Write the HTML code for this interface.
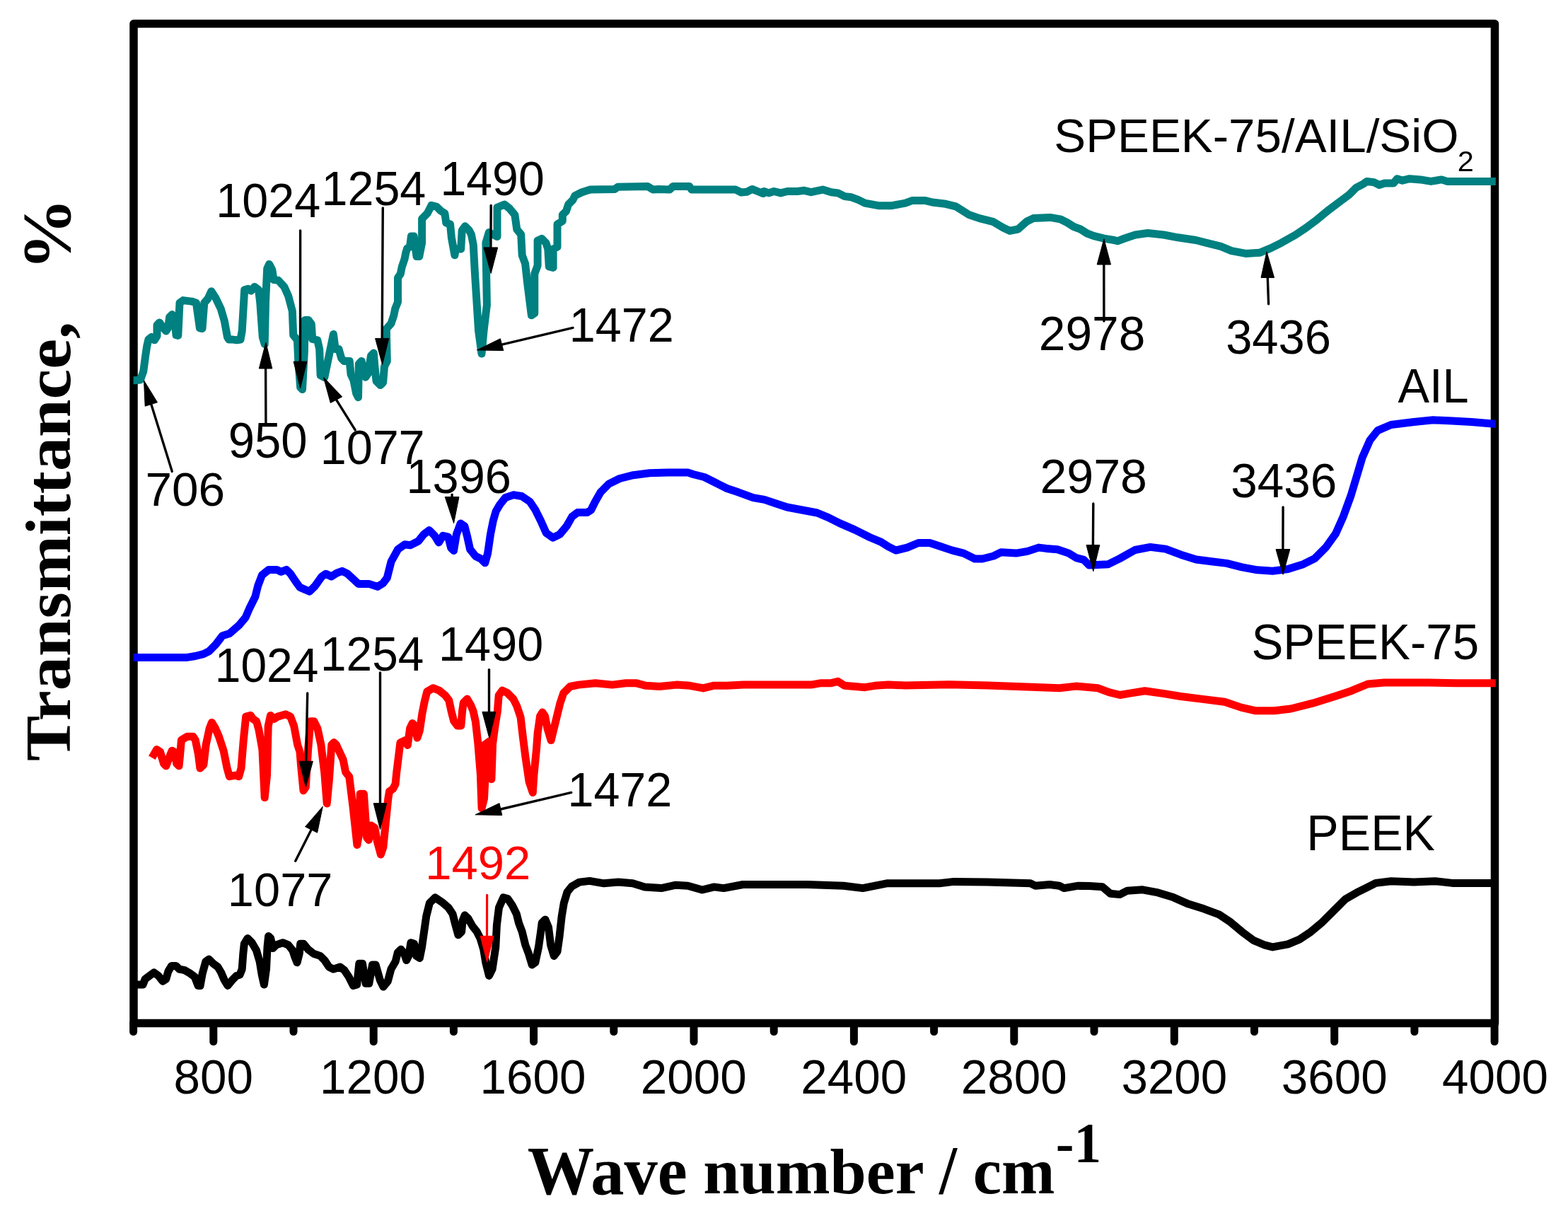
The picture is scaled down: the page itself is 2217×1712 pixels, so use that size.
<!DOCTYPE html>
<html><head><meta charset="utf-8"><title>FTIR spectra</title>
<style>html,body{margin:0;padding:0;background:#fff;overflow:hidden}svg{display:block}</style>
</head><body>
<svg width="2217" height="1712" viewBox="0 0 2217 1712">
<rect x="0" y="0" width="2217" height="1712" fill="#fff"/>
<rect x="189" y="33.5" width="1924.5" height="1413" fill="none" stroke="#000" stroke-width="11.5" stroke-linejoin="round"/>
<line x1="188.6" y1="1446.5" x2="188.6" y2="1458.5" stroke="#000" stroke-width="11" stroke-linecap="round"/>
<line x1="301.8" y1="1446.5" x2="301.8" y2="1472.5" stroke="#000" stroke-width="11" stroke-linecap="round"/>
<line x1="415.0" y1="1446.5" x2="415.0" y2="1458.5" stroke="#000" stroke-width="11" stroke-linecap="round"/>
<line x1="528.2" y1="1446.5" x2="528.2" y2="1472.5" stroke="#000" stroke-width="11" stroke-linecap="round"/>
<line x1="641.4" y1="1446.5" x2="641.4" y2="1458.5" stroke="#000" stroke-width="11" stroke-linecap="round"/>
<line x1="754.6" y1="1446.5" x2="754.6" y2="1472.5" stroke="#000" stroke-width="11" stroke-linecap="round"/>
<line x1="867.8" y1="1446.5" x2="867.8" y2="1458.5" stroke="#000" stroke-width="11" stroke-linecap="round"/>
<line x1="981.0" y1="1446.5" x2="981.0" y2="1472.5" stroke="#000" stroke-width="11" stroke-linecap="round"/>
<line x1="1094.2" y1="1446.5" x2="1094.2" y2="1458.5" stroke="#000" stroke-width="11" stroke-linecap="round"/>
<line x1="1207.4" y1="1446.5" x2="1207.4" y2="1472.5" stroke="#000" stroke-width="11" stroke-linecap="round"/>
<line x1="1320.6" y1="1446.5" x2="1320.6" y2="1458.5" stroke="#000" stroke-width="11" stroke-linecap="round"/>
<line x1="1433.8" y1="1446.5" x2="1433.8" y2="1472.5" stroke="#000" stroke-width="11" stroke-linecap="round"/>
<line x1="1547.0" y1="1446.5" x2="1547.0" y2="1458.5" stroke="#000" stroke-width="11" stroke-linecap="round"/>
<line x1="1660.3" y1="1446.5" x2="1660.3" y2="1472.5" stroke="#000" stroke-width="11" stroke-linecap="round"/>
<line x1="1773.5" y1="1446.5" x2="1773.5" y2="1458.5" stroke="#000" stroke-width="11" stroke-linecap="round"/>
<line x1="1886.7" y1="1446.5" x2="1886.7" y2="1472.5" stroke="#000" stroke-width="11" stroke-linecap="round"/>
<line x1="1999.9" y1="1446.5" x2="1999.9" y2="1458.5" stroke="#000" stroke-width="11" stroke-linecap="round"/>
<line x1="2113.1" y1="1446.5" x2="2113.1" y2="1472.5" stroke="#000" stroke-width="11" stroke-linecap="round"/>
<polyline points="188.6,537.7 190.0,537.7 198.5,537.0 202.8,524.9 205.6,503.6 207.7,489.4 209.9,480.1 214.1,476.6 218.4,480.8 222.0,475.1 222.0,459.5 225.5,455.9 229.8,462.3 234.8,468.0 237.6,463.8 239.7,448.1 243.3,444.6 246.9,449.5 249.0,473.7 251.8,474.4 254.0,428.2 258.9,424.6 271.0,426.1 277.4,428.2 282.4,463.8 286.0,464.5 288.8,428.2 293.8,422.5 298.8,411.8 305.2,421.8 312.3,436.7 317.3,453.8 321.5,476.6 323.7,480.1 329.4,480.1 335.0,480.8 340.0,480.1 342.2,468.0 345.7,409.7 350.7,408.3 355.0,411.1 359.9,405.4 365.6,409.7 367.8,428.2 371.3,476.6 374.2,486.5 375.6,425.3 377.7,379.8 380.6,373.4 384.8,381.3 387.0,395.5 393.4,396.2 401.9,405.4 407.6,418.2 413.3,439.6 414.7,473.7 420.4,480.8 421.8,510.7 424.7,547.7 427.5,550.5 430.4,496.5 431.1,452.4 436.0,452.4 440.3,458.1 441.7,479.4 448.8,480.8 451.7,493.6 453.1,530.6 458.8,533.5 471.4,472.5 474.2,493.4 479.0,493.4 482.8,506.7 486.6,510.5 494.2,510.5 496.1,529.4 499.8,537.0 503.6,556.0 506.5,561.7 507.4,514.3 511.2,510.5 515.0,529.4 516.9,533.2 520.7,527.6 524.5,502.9 528.3,499.1 530.2,521.9 532.1,538.9 537.8,544.6 541.6,540.8 543.5,518.1 547.3,510.5 546.3,464.9 553.0,457.3 556.8,446.0 558.7,436.5 562.5,427.0 562.5,392.8 566.3,387.1 568.2,377.6 572.0,366.3 573.9,356.8 575.7,351.1 579.5,349.2 581.4,334.0 585.2,334.0 589.0,362.5 592.8,362.5 596.6,343.5 596.6,309.3 604.2,301.7 609.9,290.4 617.5,292.3 623.2,298.0 628.9,301.7 630.8,315.0 636.5,316.9 638.4,335.9 642.9,360.8 644.4,352.1 651.7,352.1 653.2,325.7 657.6,319.8 663.4,325.7 666.4,331.5 669.3,346.2 671.5,387.2 676.6,467.8 681.0,500.0 684.0,467.8 688.4,431.2 686.9,343.3 691.3,328.6 703.0,334.5 703.0,293.4 713.3,289.0 720.6,294.9 727.9,303.7 730.8,324.2 736.7,331.5 738.2,360.8 742.6,372.6 745.5,398.9 751.4,445.8 755.8,442.9 755.8,387.2 760.1,375.5 760.1,340.3 766.0,337.4 771.9,343.3 774.8,352.1 776.3,377.0 782.1,378.4 782.1,352.1 788.0,349.1 788.0,316.9 795.3,312.5 795.3,303.7 800.5,298.5 803.6,289.2 809.8,282.9 812.9,276.7 822.3,272.0 831.6,268.9 834.7,268.1 869.0,267.4 873.6,264.2 915.7,263.5 923.4,268.1 931.2,267.4 946.8,268.1 951.5,263.5 974.8,263.5 977.9,268.1 1040.2,268.1 1048.0,272.0 1055.8,271.3 1063.5,267.4 1071.3,270.5 1079.1,273.6 1080.0,270.5 1087.1,272.9 1094.3,270.5 1103.8,272.9 1113.3,270.5 1127.6,270.5 1137.1,269.3 1146.7,271.7 1163.3,268.1 1175.2,271.7 1184.8,272.9 1194.3,277.6 1203.8,278.8 1213.3,282.4 1222.9,287.1 1241.9,290.7 1261.0,290.7 1280.0,287.1 1289.5,283.6 1308.6,283.6 1318.1,286.0 1337.1,288.3 1351.4,291.9 1361.0,297.9 1370.5,303.8 1384.8,308.6 1403.8,313.3 1418.1,321.7 1427.6,326.4 1439.5,324.0 1451.4,313.3 1461.0,308.6 1484.8,307.4 1499.0,309.8 1508.6,314.5 1518.1,320.5 1527.6,324.0 1537.1,330.0 1546.7,333.6 1561.0,337.1 1575.2,339.5 1580.0,340.8 1590.1,337.0 1605.2,332.0 1622.8,329.5 1645.5,332.0 1665.6,335.8 1690.8,339.5 1705.9,343.3 1726.1,348.4 1741.2,354.7 1761.3,358.4 1781.5,357.2 1796.6,350.9 1811.7,343.3 1831.8,332.0 1846.9,321.9 1862.0,310.6 1877.2,298.0 1892.3,286.7 1907.4,275.3 1917.4,265.3 1927.5,260.2 1932.6,256.4 1942.6,257.7 1950.2,261.5 1957.7,259.0 1970.3,259.0 1975.4,252.7 1982.9,255.2 1993.0,252.7 2008.1,253.9 2023.2,256.4 2038.3,253.9 2045.9,256.4 2113.9,256.4 2114.8,256.4" fill="none" stroke="#008080" stroke-width="11" stroke-linejoin="round" stroke-linecap="butt"/>
<polyline points="188.6,929.4 264.6,929.4 276.2,927.5 287.7,924.6 295.4,920.8 305.0,911.2 314.6,898.7 324.2,895.8 337.7,884.2 347.3,872.7 353.1,859.2 360.8,843.8 364.6,828.5 370.4,813.1 380.0,805.4 391.5,805.4 397.3,808.3 405.0,805.4 410.8,811.2 418.5,822.7 424.2,830.4 437.7,836.2 445.4,828.5 455.0,815.0 460.8,811.2 468.5,815.0 476.2,810.2 483.8,807.3 491.5,811.2 506.9,825.6 522.3,825.6 533.8,829.4 541.5,824.6 547.3,816.9 553.1,793.8 562.7,776.5 572.3,769.8 580.0,770.8 591.5,765.0 599.2,755.4 606.9,749.6 614.6,757.3 620.4,766.9 626.2,757.3 633.8,759.2 637.7,774.6 641.5,778.5 645.4,755.4 651.2,740.0 656.9,743.8 660.8,759.2 664.6,776.5 672.3,786.2 680.0,790.0 685.8,795.8 689.6,782.3 693.5,755.4 697.3,736.2 701.2,722.7 706.9,713.1 714.6,703.5 726.2,699.6 737.7,701.5 749.2,709.2 756.9,720.8 764.6,736.2 772.3,753.5 781.9,760.2 791.5,755.4 801.2,743.8 808.8,730.4 816.5,724.6 830.0,724.6 835.8,720.8 841.5,709.2 849.2,695.8 860.8,684.2 876.2,676.5 895.4,671.7 918.5,668.8 945.4,667.9 972.3,667.9 980.0,670.5 995.9,674.5 1011.9,682.5 1027.8,690.5 1043.7,695.8 1065.0,703.7 1080.9,706.4 1096.8,711.7 1112.8,717.0 1134.0,721.0 1155.3,725.0 1171.2,731.6 1187.1,739.6 1208.4,748.9 1229.6,759.5 1245.5,766.1 1256.2,772.8 1266.8,778.1 1282.7,774.1 1298.6,767.5 1314.6,767.5 1330.5,772.8 1346.4,778.1 1362.4,782.1 1378.3,790.0 1388.9,790.0 1404.9,786.0 1415.5,780.7 1436.7,782.1 1452.7,779.4 1468.6,774.1 1479.2,775.4 1495.1,776.7 1511.1,782.1 1521.7,788.7 1532.3,791.4 1540.0,799.1 1567.0,797.7 1583.2,789.6 1604.8,777.5 1626.4,773.4 1648.1,776.1 1669.7,784.2 1691.3,791.0 1712.9,793.7 1734.5,796.4 1756.1,801.8 1777.7,805.8 1799.3,807.2 1821.0,804.5 1842.6,797.7 1858.8,789.6 1875.0,773.4 1888.5,754.5 1899.3,730.2 1910.1,700.5 1918.2,673.5 1926.3,646.4 1937.1,622.1 1947.9,608.6 1966.8,600.5 1999.2,596.5 2026.3,593.8 2053.3,595.1 2080.3,596.5 2112.7,599.2 2114.8,599.2" fill="none" stroke="#0000FF" stroke-width="11" stroke-linejoin="round" stroke-linecap="butt"/>
<polyline points="214.9,1071.2 221.5,1059.6 226.5,1062.9 231.5,1079.5 234.8,1082.8 239.8,1069.5 243.1,1061.2 246.4,1062.9 249.7,1079.5 253.1,1082.8 254.7,1066.2 256.4,1046.3 264.7,1041.3 273.0,1041.3 276.3,1046.3 280.4,1066.2 282.9,1086.1 287.9,1081.1 291.2,1052.9 296.2,1029.7 299.5,1021.4 304.5,1029.7 309.5,1041.3 316.1,1061.2 321.1,1086.1 324.4,1097.7 332.7,1096.1 337.7,1097.7 341.0,1086.1 344.3,1046.3 347.7,1013.1 354.3,1011.4 357.6,1016.4 362.6,1019.7 365.9,1031.4 370.9,1059.6 374.2,1127.6 377.5,1096.1 379.2,1026.4 382.5,1011.4 387.5,1016.4 392.5,1013.1 404.1,1009.8 410.7,1013.1 415.7,1026.4 420.7,1052.9 424.0,1062.9 425.6,1082.8 429.0,1117.7 432.3,1112.7 435.6,1059.6 438.9,1019.7 443.9,1019.7 448.9,1029.7 453.9,1052.9 458.8,1092.8 462.2,1135.9 465.5,1101.1 468.8,1052.9 472.1,1049.6 475.4,1052.9 485.2,1074.1 488.6,1091.3 493.8,1098.1 495.5,1111.9 498.9,1139.4 502.3,1170.3 504.9,1194.4 507.5,1180.6 509.2,1122.2 514.4,1122.2 516.1,1146.3 518.7,1184.1 521.3,1187.5 524.7,1166.9 529.8,1170.3 533.3,1189.2 538.4,1208.1 541.9,1197.8 545.3,1163.4 548.8,1129.1 550.5,1118.8 555.6,1115.3 559.1,1108.4 560.8,1091.3 564.2,1063.8 565.9,1050.0 572.8,1046.6 576.3,1053.4 579.7,1029.4 583.1,1022.5 586.6,1025.9 590.0,1043.1 593.4,1032.8 596.9,1008.8 600.3,991.6 603.8,977.8 612.3,972.7 620.9,976.1 629.5,983.0 634.7,989.8 638.1,1005.3 641.6,1019.1 646.7,1025.9 651.9,1025.9 653.6,1005.3 655.3,993.3 660.5,988.1 665.6,996.7 669.1,1005.3 672.5,1020.8 675.9,1051.7 679.4,1094.7 681.1,1142.8 684.5,1129.1 686.3,1094.7 684.5,1053.4 691.4,1048.3 694.9,1060.3 694.9,1101.6 696.6,1051.7 700.0,1025.9 703.4,1005.3 705.2,983.0 710.3,976.1 717.2,979.5 725.8,988.1 730.9,998.4 736.1,1013.9 739.5,1043.1 743.0,1070.6 748.1,1105.0 753.3,1120.5 755.0,1094.7 758.4,1060.3 760.2,1036.3 763.6,1012.2 767.0,1007.0 770.5,1012.2 773.9,1029.4 779.1,1046.6 791.9,994.3 796.7,980.0 806.2,970.5 818.1,968.1 841.9,965.7 865.7,968.1 884.8,965.7 899.0,965.7 913.3,969.3 932.4,970.5 956.2,968.1 975.2,969.3 994.3,972.9 1008.6,969.3 1027.6,969.3 1051.4,968.1 1146.7,968.1 1161.0,965.7 1175.2,965.7 1184.8,963.3 1194.3,969.3 1208.6,970.5 1222.9,971.7 1237.1,969.3 1256.2,968.1 1280.0,968.9 1342.3,967.8 1396.8,968.9 1451.3,970.9 1498.0,972.8 1521.3,970.1 1552.5,972.8 1568.0,978.7 1583.6,982.5 1599.2,979.8 1618.7,976.7 1645.9,980.6 1669.3,984.5 1700.4,988.4 1731.5,992.3 1754.9,1000.1 1774.4,1004.7 1801.6,1004.7 1825.0,1002.0 1856.1,994.2 1887.2,984.5 1910.6,976.7 1934.0,967.0 1957.3,965.0 2019.6,965.0 2058.5,965.8 2113.0,965.8 2114.8,965.8" fill="none" stroke="#FF0000" stroke-width="11" stroke-linejoin="round" stroke-linecap="butt"/>
<polyline points="188.6,1391.9 195.1,1391.9 202.1,1391.9 205.2,1384.1 211.5,1379.4 217.7,1374.8 223.9,1379.4 230.1,1387.2 234.8,1384.1 237.9,1373.2 242.6,1365.4 248.8,1365.4 253.5,1370.1 261.3,1371.7 269.1,1376.3 275.3,1381.0 280.0,1393.4 283.1,1393.4 286.2,1376.3 290.9,1359.2 295.5,1356.1 301.7,1362.3 308.0,1367.0 312.6,1374.8 317.3,1385.7 322.0,1393.4 328.2,1385.7 334.4,1379.4 339.1,1377.9 342.2,1370.1 343.8,1348.3 345.3,1334.3 350.0,1326.5 356.2,1332.7 362.5,1343.6 367.1,1359.2 370.2,1377.9 373.4,1391.9 376.5,1370.1 378.0,1339.0 379.6,1323.4 382.7,1326.5 385.8,1340.5 390.5,1335.9 399.8,1332.7 407.6,1335.9 413.8,1343.6 416.9,1353.0 420.1,1360.8 423.2,1348.3 424.7,1334.3 429.4,1334.3 435.6,1342.1 443.4,1348.3 452.7,1351.4 459.0,1357.6 465.2,1367.0 471.4,1370.1 480.8,1367.0 487.0,1371.7 493.2,1381.0 499.4,1393.4 504.7,1391.9 507.8,1362.3 512.5,1362.3 517.1,1390.3 521.8,1390.3 526.5,1363.9 531.1,1363.9 537.4,1385.7 542.0,1395.0 548.3,1387.2 552.9,1370.1 559.2,1359.2 562.3,1346.7 566.9,1342.1 571.6,1348.3 574.7,1357.6 577.8,1351.4 580.9,1332.7 585.6,1334.3 588.7,1351.4 593.4,1354.5 596.5,1339.0 599.6,1317.2 602.7,1295.4 607.4,1276.7 615.2,1268.9 624.5,1275.1 633.9,1282.9 640.1,1292.3 643.2,1304.7 647.9,1321.8 652.6,1317.2 654.1,1301.6 657.2,1293.8 661.9,1298.5 668.1,1309.4 674.3,1317.2 679.0,1326.5 683.7,1342.1 686.8,1360.8 691.5,1379.4 696.1,1370.1 700.8,1339.0 702.4,1307.8 705.5,1282.9 711.7,1268.9 717.9,1270.5 724.2,1279.8 730.4,1292.3 733.5,1304.7 738.2,1317.2 742.8,1335.9 747.5,1348.3 752.2,1363.9 756.8,1360.8 761.5,1339.0 764.6,1317.2 766.2,1304.7 770.9,1300.0 775.5,1310.9 778.6,1335.9 783.3,1351.4 788.0,1345.2 791.1,1323.4 794.2,1295.4 797.3,1276.7 802.0,1261.1 808.2,1253.3 819.1,1247.1 833.6,1245.4 853.9,1248.8 874.2,1247.1 894.6,1248.8 911.5,1253.9 935.2,1255.6 955.5,1251.2 972.5,1252.2 992.8,1258.0 1009.8,1253.9 1023.3,1255.6 1050.4,1250.5 1141.9,1250.5 1192.8,1252.2 1219.9,1255.6 1253.8,1248.8 1294.4,1248.8 1328.3,1248.8 1348.6,1246.4 1396.1,1247.1 1457.1,1248.8 1463.8,1252.2 1484.2,1250.5 1497.7,1252.2 1504.5,1255.6 1524.8,1252.2 1540.0,1252.4 1558.9,1253.8 1569.7,1263.2 1583.2,1264.6 1594.0,1259.2 1615.6,1257.8 1637.3,1261.9 1658.9,1268.6 1680.5,1278.1 1702.1,1284.8 1723.7,1292.9 1739.9,1303.7 1756.1,1317.3 1772.3,1329.4 1788.5,1336.2 1799.3,1338.9 1821.0,1334.8 1837.2,1328.1 1853.4,1317.3 1869.6,1303.7 1885.8,1287.5 1902.0,1271.3 1918.2,1261.9 1934.4,1253.8 1945.2,1248.4 1966.8,1245.7 1999.2,1247.0 2029.0,1245.7 2053.3,1248.4 2107.3,1248.4 2114.8,1248.4" fill="none" stroke="#000000" stroke-width="11" stroke-linejoin="round" stroke-linecap="butt"/>
<text transform="translate(248.2,1545.5) scale(0.6740,0.6900)" x="-4" y="0" font-family="Liberation Sans, sans-serif" font-weight="normal" font-size="100" fill="#000">800</text>
<text transform="translate(457.4,1545.5) scale(0.6740,0.6900)" x="-8" y="0" font-family="Liberation Sans, sans-serif" font-weight="normal" font-size="100" fill="#000">1200</text>
<text transform="translate(683.9,1545.5) scale(0.6740,0.6900)" x="-8" y="0" font-family="Liberation Sans, sans-serif" font-weight="normal" font-size="100" fill="#000">1600</text>
<text transform="translate(909.2,1545.5) scale(0.6740,0.6900)" x="-5" y="0" font-family="Liberation Sans, sans-serif" font-weight="normal" font-size="100" fill="#000">2000</text>
<text transform="translate(1135.7,1545.5) scale(0.6740,0.6900)" x="-5" y="0" font-family="Liberation Sans, sans-serif" font-weight="normal" font-size="100" fill="#000">2400</text>
<text transform="translate(1362.1,1545.5) scale(0.6740,0.6900)" x="-5" y="0" font-family="Liberation Sans, sans-serif" font-weight="normal" font-size="100" fill="#000">2800</text>
<text transform="translate(1588.1,1545.5) scale(0.6740,0.6900)" x="-4" y="0" font-family="Liberation Sans, sans-serif" font-weight="normal" font-size="100" fill="#000">3200</text>
<text transform="translate(1814.5,1545.5) scale(0.6740,0.6900)" x="-4" y="0" font-family="Liberation Sans, sans-serif" font-weight="normal" font-size="100" fill="#000">3600</text>
<text transform="translate(2040.3,1545.5) scale(0.6740,0.6900)" x="-2" y="0" font-family="Liberation Sans, sans-serif" font-weight="normal" font-size="100" fill="#000">4000</text>
<text transform="translate(746.8,1687.7) scale(0.9455,0.9800)" x="-1" y="0" font-family="Liberation Serif, sans-serif" font-weight="bold" font-size="100" fill="#000">Wave</text>
<text transform="translate(996.9,1686.9) scale(0.9225,0.9116)" x="-3" y="0" font-family="Liberation Serif, sans-serif" font-weight="bold" font-size="100" fill="#000">number</text>
<text transform="translate(1327.0,1686.5) scale(0.9000,0.9769)" x="1" y="0" font-family="Liberation Serif, sans-serif" font-weight="bold" font-size="100" fill="#000">/</text>
<text transform="translate(1378.5,1686.5) scale(0.9057,0.9213)" x="-3" y="0" font-family="Liberation Serif, sans-serif" font-weight="bold" font-size="100" fill="#000">cm</text>
<text transform="translate(1495.8,1642.5) scale(0.7730,0.8076)" x="-4" y="0" font-family="Liberation Serif, sans-serif" font-weight="bold" font-size="100" fill="#000">-1</text>
<text transform="translate(99.0,1074.0) rotate(-90) scale(0.9624,0.9130)" x="-2" y="0" font-family="Liberation Serif, serif" font-weight="bold" font-size="100" fill="#000">Transmittance,</text>
<text transform="translate(99.0,372.0) rotate(-90) scale(1.0247,0.9769)" x="-10" y="0" font-family="Liberation Serif, serif" font-weight="bold" font-size="100" fill="#000">%</text>
<text transform="translate(1493.7,215.0) scale(0.6730,0.6589)" x="-5" y="0" font-family="Liberation Sans, sans-serif" font-weight="normal" font-size="100" fill="#000">SPEEK-75/AIL/SiO</text>
<text transform="translate(2062.9,241.8) scale(0.4152,0.4114)" x="-5" y="0" font-family="Liberation Sans, sans-serif" font-weight="normal" font-size="100" fill="#000">2</text>
<text transform="translate(1976.4,569.0) scale(0.6680,0.6884)" x="0" y="0" font-family="Liberation Sans, sans-serif" font-weight="normal" font-size="100" fill="#000">AIL</text>
<text transform="translate(1772.8,931.9) scale(0.6733,0.6957)" x="-5" y="0" font-family="Liberation Sans, sans-serif" font-weight="normal" font-size="100" fill="#000">SPEEK-75</text>
<text transform="translate(1852.8,1201.8) scale(0.6809,0.6957)" x="-8" y="0" font-family="Liberation Sans, sans-serif" font-weight="normal" font-size="100" fill="#000">PEEK</text>
<text transform="translate(310.6,307.0) scale(0.6654,0.6886)" x="-8" y="0" font-family="Liberation Sans, sans-serif" font-weight="normal" font-size="100" fill="#000">1024</text>
<line x1="424.6" y1="326.0" x2="424.5" y2="511.1" stroke="#000" stroke-width="3.4" stroke-linecap="round"/><polygon points="424.6,548.8 415.1,511.1 433.9,511.1" fill="#000" stroke="#000" stroke-width="1" stroke-linejoin="round"/>
<text transform="translate(459.8,290.2) scale(0.6645,0.6886)" x="-8" y="0" font-family="Liberation Sans, sans-serif" font-weight="normal" font-size="100" fill="#000">1254</text>
<line x1="541.3" y1="294.0" x2="540.2" y2="478.4" stroke="#000" stroke-width="3.4" stroke-linecap="round"/><polygon points="540.6,515.4 530.6,478.4 549.8,478.4" fill="#000" stroke="#000" stroke-width="1" stroke-linejoin="round"/>
<text transform="translate(627.7,276.3) scale(0.6624,0.6829)" x="-8" y="0" font-family="Liberation Sans, sans-serif" font-weight="normal" font-size="100" fill="#000">1490</text>
<line x1="694.2" y1="290.5" x2="693.9" y2="349.9" stroke="#000" stroke-width="3.4" stroke-linecap="round"/><polygon points="694.2,386.5 684.0,349.9 703.7,349.9" fill="#000" stroke="#000" stroke-width="1" stroke-linejoin="round"/>
<text transform="translate(810.0,482.5) scale(0.6651,0.6814)" x="-8" y="0" font-family="Liberation Sans, sans-serif" font-weight="normal" font-size="100" fill="#000">1472</text>
<line x1="810.0" y1="463.4" x2="709.6" y2="487.2" stroke="#000" stroke-width="3.4" stroke-linecap="round"/><polygon points="674.4,494.9 707.4,478.8 711.8,495.6" fill="#000" stroke="#000" stroke-width="1" stroke-linejoin="round"/>
<text transform="translate(326.0,646.8) scale(0.6709,0.6971)" x="-5" y="0" font-family="Liberation Sans, sans-serif" font-weight="normal" font-size="100" fill="#000">950</text>
<line x1="375.9" y1="599.3" x2="375.6" y2="521.0" stroke="#000" stroke-width="3.4" stroke-linecap="round"/><polygon points="375.9,484.1 366.3,521.0 384.8,521.0" fill="#000" stroke="#000" stroke-width="1" stroke-linejoin="round"/>
<text transform="translate(458.0,655.5) scale(0.6651,0.6786)" x="-8" y="0" font-family="Liberation Sans, sans-serif" font-weight="normal" font-size="100" fill="#000">1077</text>
<line x1="502.2" y1="607.9" x2="475.5" y2="565.2" stroke="#000" stroke-width="3.4" stroke-linecap="round"/><polygon points="457.4,533.2 467.3,569.5 483.7,560.9" fill="#000" stroke="#000" stroke-width="1" stroke-linejoin="round"/>
<text transform="translate(208.8,715.2) scale(0.6752,0.6714)" x="-5" y="0" font-family="Liberation Sans, sans-serif" font-weight="normal" font-size="100" fill="#000">706</text>
<line x1="243.3" y1="666.4" x2="213.8" y2="571.5" stroke="#000" stroke-width="3.4" stroke-linecap="round"/><polygon points="203.5,537.9 205.2,574.2 222.5,568.8" fill="#000" stroke="#000" stroke-width="1" stroke-linejoin="round"/>
<text transform="translate(1472.2,495.3) scale(0.6765,0.6857)" x="-5" y="0" font-family="Liberation Sans, sans-serif" font-weight="normal" font-size="100" fill="#000">2978</text>
<line x1="1560.9" y1="454.0" x2="1560.8" y2="374.0" stroke="#000" stroke-width="3.4" stroke-linecap="round"/><polygon points="1560.9,337.7 1551.2,374.0 1570.5,374.0" fill="#000" stroke="#000" stroke-width="1" stroke-linejoin="round"/>
<text transform="translate(1735.8,500.0) scale(0.6692,0.6857)" x="-4" y="0" font-family="Liberation Sans, sans-serif" font-weight="normal" font-size="100" fill="#000">3436</text>
<line x1="1793.6" y1="429.8" x2="1792.3" y2="392.5" stroke="#000" stroke-width="3.4" stroke-linecap="round"/><polygon points="1791.0,355.9 1783.0,392.5 1801.6,392.5" fill="#000" stroke="#000" stroke-width="1" stroke-linejoin="round"/>
<text transform="translate(579.8,696.9) scale(0.6671,0.6843)" x="-8" y="0" font-family="Liberation Sans, sans-serif" font-weight="normal" font-size="100" fill="#000">1396</text>
<line x1="639.1" y1="699.2" x2="639.1" y2="702.5" stroke="#000" stroke-width="3.4" stroke-linecap="round"/><polygon points="641.6,739.6 629.2,702.5 649.0,702.5" fill="#000" stroke="#000" stroke-width="1" stroke-linejoin="round"/>
<text transform="translate(1473.8,697.4) scale(0.6812,0.6829)" x="-5" y="0" font-family="Liberation Sans, sans-serif" font-weight="normal" font-size="100" fill="#000">2978</text>
<line x1="1545.8" y1="711.9" x2="1545.4" y2="770.5" stroke="#000" stroke-width="3.4" stroke-linecap="round"/><polygon points="1545.8,807.7 1536.0,770.5 1554.8,770.5" fill="#000" stroke="#000" stroke-width="1" stroke-linejoin="round"/>
<text transform="translate(1743.0,703.4) scale(0.6743,0.6914)" x="-4" y="0" font-family="Liberation Sans, sans-serif" font-weight="normal" font-size="100" fill="#000">3436</text>
<line x1="1814.1" y1="717.0" x2="1813.9" y2="776.5" stroke="#000" stroke-width="3.4" stroke-linecap="round"/><polygon points="1814.1,812.2 1804.0,776.5 1823.8,776.5" fill="#000" stroke="#000" stroke-width="1" stroke-linejoin="round"/>
<text transform="translate(309.0,963.7) scale(0.6597,0.6814)" x="-8" y="0" font-family="Liberation Sans, sans-serif" font-weight="normal" font-size="100" fill="#000">1024</text>
<line x1="434.7" y1="980.0" x2="432.8" y2="1076.2" stroke="#000" stroke-width="3.4" stroke-linecap="round"/><polygon points="432.4,1112.5 423.1,1076.2 442.4,1076.2" fill="#000" stroke="#000" stroke-width="1" stroke-linejoin="round"/>
<text transform="translate(458.3,948.0) scale(0.6573,0.6857)" x="-8" y="0" font-family="Liberation Sans, sans-serif" font-weight="normal" font-size="100" fill="#000">1254</text>
<line x1="537.5" y1="950.9" x2="537.5" y2="1135.6" stroke="#000" stroke-width="3.4" stroke-linecap="round"/><polygon points="537.5,1172.6 528.2,1135.6 546.7,1135.6" fill="#000" stroke="#000" stroke-width="1" stroke-linejoin="round"/>
<text transform="translate(625.4,933.6) scale(0.6657,0.6929)" x="-8" y="0" font-family="Liberation Sans, sans-serif" font-weight="normal" font-size="100" fill="#000">1490</text>
<line x1="691.5" y1="946.6" x2="691.5" y2="1006.3" stroke="#000" stroke-width="3.4" stroke-linecap="round"/><polygon points="691.9,1043.7 681.9,1006.3 701.0,1006.3" fill="#000" stroke="#000" stroke-width="1" stroke-linejoin="round"/>
<text transform="translate(807.7,1140.0) scale(0.6651,0.6771)" x="-8" y="0" font-family="Liberation Sans, sans-serif" font-weight="normal" font-size="100" fill="#000">1472</text>
<line x1="807.7" y1="1120.4" x2="707.9" y2="1144.0" stroke="#000" stroke-width="3.4" stroke-linecap="round"/><polygon points="672.0,1151.8 706.0,1135.6 709.8,1152.5" fill="#000" stroke="#000" stroke-width="1" stroke-linejoin="round"/>
<text transform="translate(327.2,1280.6) scale(0.6679,0.6686)" x="-8" y="0" font-family="Liberation Sans, sans-serif" font-weight="normal" font-size="100" fill="#000">1077</text>
<line x1="417.7" y1="1217.3" x2="440.1" y2="1173.0" stroke="#000" stroke-width="3.4" stroke-linecap="round"/><polygon points="456.3,1140.2 431.6,1168.7 448.6,1177.2" fill="#000" stroke="#000" stroke-width="1" stroke-linejoin="round"/>
<text transform="translate(606.7,1242.8) scale(0.6699,0.6686)" x="-8" y="0" font-family="Liberation Sans, sans-serif" font-weight="normal" font-size="100" fill="#FF0000">1492</text>
<line x1="688.6" y1="1265.3" x2="688.5" y2="1323.3" stroke="#FF0000" stroke-width="3.2" stroke-linecap="round"/><polygon points="688.7,1360.2 679.1,1323.3 698.0,1323.3" fill="#FF0000" stroke="#FF0000" stroke-width="1" stroke-linejoin="round"/>
</svg>
</body></html>
